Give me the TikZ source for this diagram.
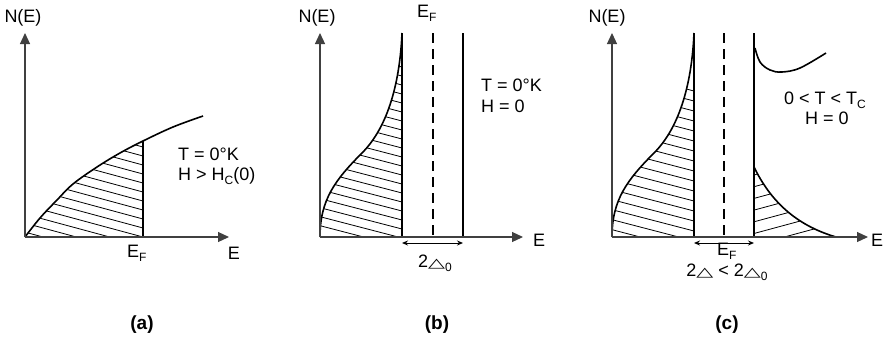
\documentclass[tikz,border=0pt]{standalone}
\usepackage{fontspec}
\setmainfont{Liberation Sans}
\newfontfamily\symfont{DejaVu Sans}
\usetikzlibrary{arrows.meta}
\newcommand{\lowsub}[1]{\raisebox{-0.4ex}{\fontsize{12}{12}\selectfont #1}}
\newcommand{\gapsym}{\scalebox{1.7}[1]{\symfont\fontsize{13}{13}\selectfont △}}

\begin{document}
\begin{tikzpicture}[x=1pt,y=-1pt,
  axis/.style={draw=black!75, line width=1.2pt, -{Triangle[length=11pt,width=10pt]}},
  dos/.style={line width=1.6pt},
  edge/.style={line width=1.6pt},
  fermi/.style={line width=1.2pt, dash pattern=on 10pt off 6pt},
  hatch/.style={line width=0.8pt},
  gap/.style={line width=1pt, {Stealth[length=6pt,width=5pt]}-{Stealth[length=6pt,width=5pt]}},
  lbl/.style={inner sep=0pt, font=\fontsize{18}{21}\selectfont},
  tag/.style={inner sep=0pt, font=\fontsize{19}{22}\selectfont\bfseries}]
\useasboundingbox (0,0) rectangle (887,343);

% (a) normal state
\coordinate (oa) at (25,237);
\coordinate (ya) at (25,33);
\coordinate (xa) at (229,237);
\begin{scope}
\clip plot[smooth, tension=0.6] coordinates {(25,237) (40,218) (57,200) (73,184) (97,167) (120,153) (143,141)} -- (143,237) -- cycle;
\foreach \k in {0,...,14}
  \draw[hatch] (143,{147+9*\k}) ++(-130,-35.1) -- ++(140,37.8);
\end{scope}
\draw[dos] plot[smooth, tension=0.6] coordinates {(25,237) (40,218) (57,200) (73,184) (97,167) (120,153) (143,141) (173,127) (203,116)};
\draw[edge] (143,141) -- (143,237);
\draw[axis] (oa) -- (ya);
\draw[axis] (oa) -- (xa);
\node[lbl] (nea) at (23,18) {N(E)};
\node[lbl, anchor=west] (efa) at (127,253) {E\lowsub{F}};
\node[lbl] (ea) at (234,253) {E};
\node[lbl, anchor=west] (ta) at (178,154) {T = 0°K};
\node[lbl, anchor=west] (ha) at (178,176) {H > H\lowsub{C}(0)};
\node[tag] (taga) at (142,325) {(a)};

% (b) T = 0, gap 2 Delta_0
\coordinate (ob) at (320,237);
\coordinate (yb) at (320,33);
\coordinate (xb) at (523,237);
\begin{scope}
\clip (300,62) rectangle (402,240);
\clip (320,237) .. controls (320,200) and (335,180) .. (362,153) .. controls (389,126) and (400,80) .. (402,33) -- (402,237) -- cycle;
\foreach \k in {0,...,20}
  \draw[hatch] (402,{67+9*\k}) ++(-110,-28.6) -- ++(120,31.2);
\end{scope}
\draw[dos] (320,237) .. controls (320,200) and (335,180) .. (362,153) .. controls (389,126) and (400,80) .. (402,33);
\draw[edge] (402,33) -- (402,237);
\draw[fermi] (433,33) -- (433,237);
\draw[edge] (463,33) -- (463,237);
\draw[axis] (ob) -- (yb);
\draw[axis] (ob) -- (xb);
\coordinate (gbl) at (402,243);
\coordinate (gbr) at (463,243);
\draw[gap] (gbl) -- (gbr);
\node[lbl] (neb) at (317,18) {N(E)};
\node[lbl, anchor=west] (efb) at (417,13) {E\lowsub{F}};
\node[lbl] (eb) at (539,240) {E};
\node[lbl] (db) at (435,263) {2\gapsym\lowsub{0}};
\node[lbl, anchor=west] (tb) at (481,85) {T = 0°K};
\node[lbl, anchor=west] (hb) at (481,106) {H = 0};
\node[tag] (tagb) at (437,325) {(b)};

% (c) 0 < T < Tc, smaller gap
\coordinate (oc) at (612,237);
\coordinate (yc) at (612,33);
\coordinate (xc) at (868,237);
\begin{scope}
\clip (600,85) rectangle (694,240);
\clip (612,237) .. controls (612,200) and (627,180) .. (654,153) .. controls (681,126) and (692,80) .. (694,33) -- (694,237) -- cycle;
\foreach \k in {0,...,17}
  \draw[hatch] (694,{91+10*\k}) ++(-110,-28.6) -- ++(120,31.2);
\end{scope}
\begin{scope}
\clip (754,167) .. controls (770,200) and (795,225) .. (836,237) -- (754,237) -- cycle;
\foreach \k in {0,...,6}
  \draw[hatch] (754,{175+11.7*\k}) ++(-10,2.7) -- ++(120,-32.4);
\end{scope}
\draw[dos] (612,237) .. controls (612,200) and (627,180) .. (654,153) .. controls (681,126) and (692,80) .. (694,33);
\draw[dos] (754,167) .. controls (770,200) and (795,225) .. (836,237);
\draw[dos] plot[smooth, tension=0.6] coordinates {(755,48) (760,62) (770,70) (782,72) (800,68) (826,53)};
\draw[edge] (694,33) -- (694,237);
\draw[fermi] (724,33) -- (724,237);
\draw[edge] (754,33) -- (754,237);
\draw[axis] (oc) -- (yc);
\draw[axis] (oc) -- (xc);
\coordinate (gcl) at (694,243);
\coordinate (gcr) at (754,243);
\draw[gap] (gcl) -- (gcr);
\node[lbl] (nec) at (607,18) {N(E)};
\node[lbl] (ec) at (877,240) {E};
\node[lbl, anchor=west] (efc) at (717,251) {E\lowsub{F}};
\node[lbl] (dc) at (727,272) {2\gapsym\ < 2\gapsym\lowsub{0}};
\node[lbl] (tc) at (825,100) {0 < T < T\lowsub{C}};
\node[lbl] (hc) at (827,118) {H = 0};
\node[tag] (tagc) at (727,325) {(c)};
\end{tikzpicture}
\end{document}
